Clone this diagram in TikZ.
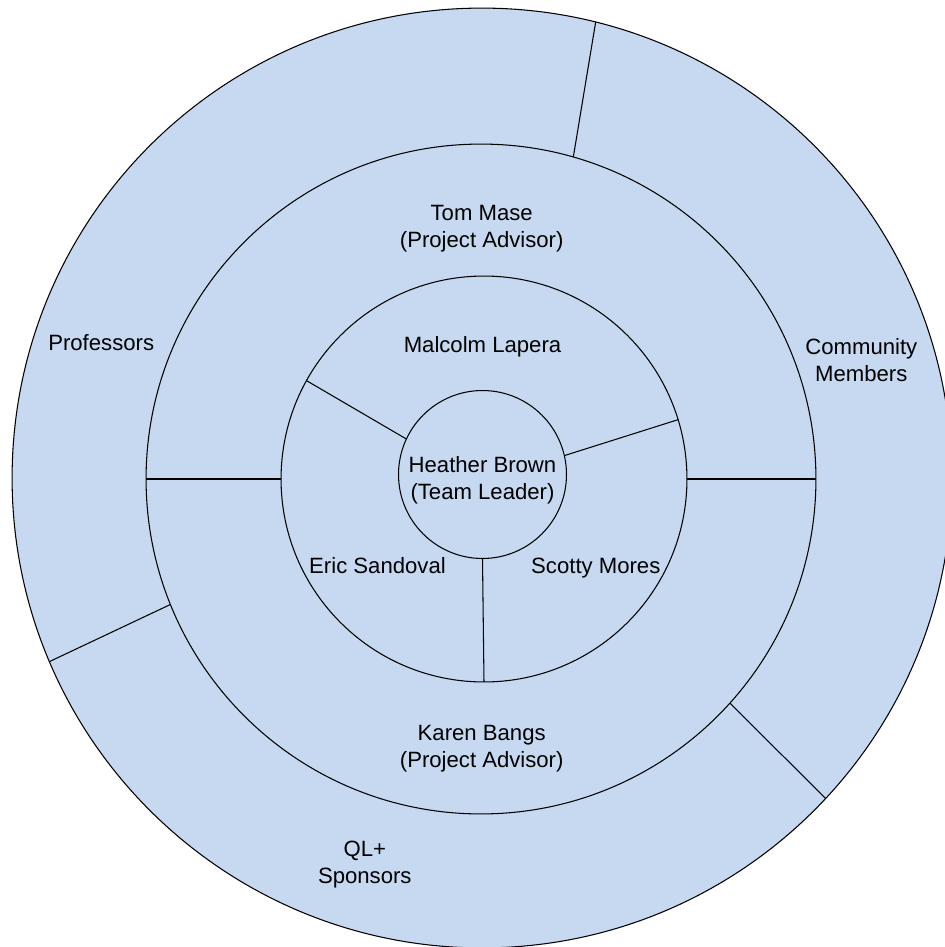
\documentclass[tikz,border=0pt]{standalone}
\usepackage{fontspec}
\setmainfont{Liberation Sans}
\definecolor{ringfill}{HTML}{C6D9F0}
\begin{document}
\begin{tikzpicture}[x=0.02cm,y=-0.02cm,
  ring/.style={circle, draw=black, fill=ringfill, line width=0.6pt, inner sep=0pt, outer sep=0pt},
  divider/.style={draw=black, line width=0.6pt},
  lbl/.style={font=\fontsize{12.6pt}{15.5pt}\selectfont, align=center, inner sep=0pt, text=black}]
\useasboundingbox (0,0) rectangle (945,947);
\clip (0,0) rectangle (945,947);
% rings
\node[ring, minimum size=18.80cm] (outer) at (482,478) {};
\node[ring, minimum size=13.40cm] (mid) at (481,479) {};
\node[ring, minimum size=8.12cm] (inner) at (484,479) {};
\node[ring, minimum size=3.36cm] (core) at (482.5,474.5) {};
% dividers
\draw[divider] (outer.76.56) -- (mid.74.9);
\draw[divider] (outer.203.13) -- (mid.202.8);
\draw[divider] (outer.317.6) -- (mid.318.8);
\draw[divider] (mid.180) -- (inner.180);
\draw[divider] (inner.0) -- (mid.0);
\draw[divider] (inner.151.2) -- (core.155.8);
\draw[divider] (inner.17.9) -- (core.13.6);
\draw[divider] (core.270) -- (inner.270.2);
% labels
\node[lbl, anchor=base] (malcolm) at (482.5,352) {Malcolm Lapera};
\node[lbl, anchor=base] (eric) at (377.5,573.3) {Eric Sandoval};
\node[lbl, anchor=base] (scotty) at (595.8,573.3) {Scotty Mores};
\node[lbl, anchor=base] (prof) at (101.2,350.7) {Professors};
\node[lbl] (tom) at (481.7,228.9) {Tom Mase\\(Project Advisor)};
\node[lbl] (karen) at (481.7,749) {Karen Bangs\\(Project Advisor)};
\node[lbl] (heather) at (482.5,479.9) {Heather Brown\\(Team Leader)};
\node[lbl] (community) at (861.3,359.9) {Community\\Members};
\node[lbl] (qlp) at (364.8,864.3) {QL+\\Sponsors};
\end{tikzpicture}
\end{document}
